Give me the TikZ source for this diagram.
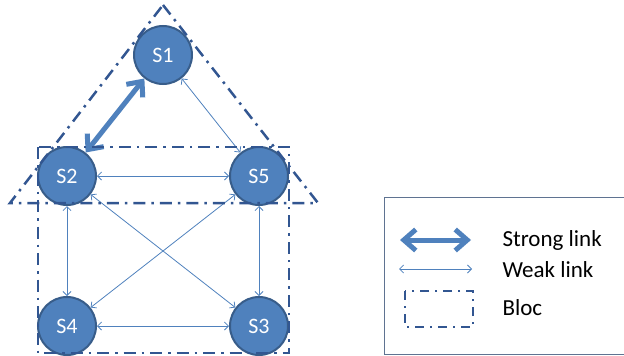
\documentclass[tikz,border=0pt]{standalone}
\usepackage{fontspec}
\setmainfont{Carlito}
\usetikzlibrary{arrows.meta}
\definecolor{siteblue}{RGB}{79,129,189}
\definecolor{siteedge}{RGB}{56,93,138}
\definecolor{blocblue}{RGB}{50,86,145}
\definecolor{legendedge}{RGB}{95,115,145}
\tikzset{
  site/.style={circle, fill=siteblue, draw=siteedge, line width=2pt, minimum size=58pt, inner sep=0pt, text=white, font=\fontsize{22}{22}\selectfont},
  weak/.style={siteblue, line width=0.8pt, {Straight Barb[length=4pt,width=8pt]}-{Straight Barb[length=4pt,width=8pt]}},
  strong/.style={siteblue, line width=5pt, line cap=round, line join=round, {Straight Barb[length=12pt,width=21pt]}-{Straight Barb[length=12pt,width=21pt]}},
  bloc/.style={blocblue, line width=2.5pt, dash pattern=on 12pt off 6pt on 2.5pt off 6pt},
  legendtext/.style={anchor=west, font=\fontsize{23}{23}\selectfont}
}

\begin{document}
\begin{tikzpicture}[x=1pt, y=-1pt]
\useasboundingbox (0,0) rectangle (624,356);

\node[site] (s1) at (163,55) {S1};
\node[site] (s2) at (67,176) {S2};
\node[site] (s5) at (259,176) {S5};
\node[site] (s4) at (67,326) {S4};
\node[site] (s3) at (259,326) {S3};

\draw[strong] (s2) -- (s1);
\draw[weak] (s1) -- (s5);
\draw[weak] (s2) -- (s5);
\draw[weak] (s2) -- (s4);
\draw[weak] (s2) -- (s3);
\draw[weak] (s5) -- (s4);
\draw[weak] (s5) -- (s3);
\draw[weak] (s4) -- (s3);

\draw[bloc] (163,5) -- (318,203) -- (10,203) -- cycle;
\draw[bloc] (38,147) rectangle (289,353);

\draw[legendedge, line width=0.8pt] (630,197) -- (384,197) -- (384,354) -- (630,354);
\coordinate (sa) at (400,240);
\coordinate (sb) at (471,240);
\coordinate (wa) at (399,269);
\coordinate (wb) at (472,269);
\draw[strong] (sa) -- (sb);
\draw[weak] (wa) -- (wb);
\draw[bloc, line width=2.5pt, dash pattern=on 9pt off 6pt on 2pt off 6pt] (405,291) rectangle (473,327);
\node[legendtext] (tstrong) at (499,240) {Strong link};
\node[legendtext] (tweak) at (499,270) {Weak link};
\node[legendtext] (tbloc) at (499,308) {Bloc};
\end{tikzpicture}
\end{document}
